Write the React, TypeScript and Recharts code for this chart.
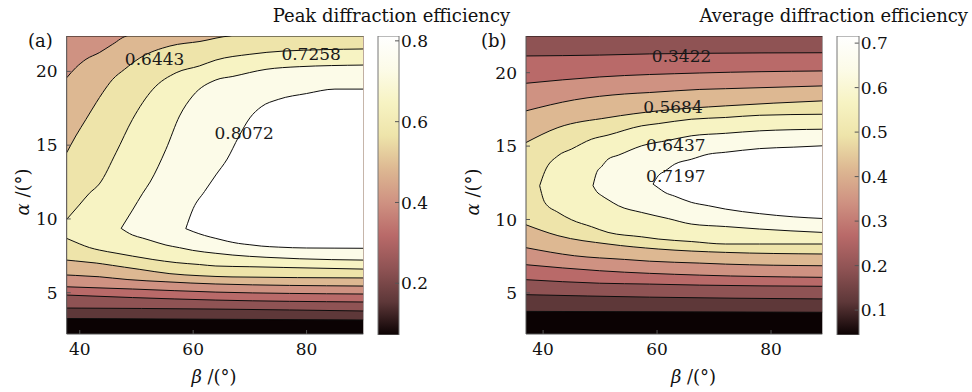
import { ComposedChart, Area, Bar, XAxis, YAxis, CartesianGrid, ReferenceDot } from 'recharts';

const SERIF = '"DejaVu Serif", "Liberation Serif", serif';

// filled-contour colours, lowest band first (pink-like colormap)
const BAND_COLORS = [
  '#0b0203',
  '#5e3839',
  '#8f5354',
  '#b96a69',
  '#cf9282',
  '#ddb892',
  '#eee4aa',
  '#f7f3c3',
  '#fcfbe8',
  '#ffffff'
];

const BETA_TICKS = [40, 60, 80];
const ALPHA_TICKS = [5, 10, 15, 20];

type Row = [number, number, number]; // [beta, alpha low, alpha high] of the region above a level

// (a) peak diffraction efficiency
const peakBeta: [number, number] = [37.7, 90];
const peakAlpha: [number, number] = [2.2, 22.4];
const peakL1: Row[] = [[37.7, 3.25, 22.4], [90, 3.15, 22.4]];
const peakL2: Row[] = [[37.7, 3.96, 22.4], [64, 3.89, 22.4], [90, 3.76, 22.4]];
const peakL3: Row[] = [[37.7, 4.84, 22.4], [49.3, 4.67, 22.4], [64, 4.5, 22.4], [90, 4.37, 22.4]];
const peakL4: Row[] = [[37.7, 5.4, 22.4], [49.3, 5.25, 22.4], [64, 5.04, 22.4], [90, 4.91, 22.4]];
const peakL5: Row[] = [
  [37.7, 6.2, 19.57], [39.3, 6.17, 20.25], [41.1, 6.13, 20.82], [43.45, 6.08, 21.27],
  [45.8, 5.99, 21.84], [48.5, 5.89, 22.4], [55.2, 5.74, 22.4], [64, 5.59, 22.4], [90, 5.45, 22.4]
];
const peakL6: Row[] = [
  [37.7, 7.21, 14.49], [39.3, 7.15, 15.62], [41.1, 7.08, 16.75], [42.9, 7.01, 17.88],
  [44.05, 6.95, 18.56], [45.8, 6.85, 19.46], [47.9, 6.73, 20.14], [50.6, 6.58, 20.91],
  [55.9, 6.29, 21.72], [61.2, 6.15, 22.03], [66.85, 6.07, 22.4], [90, 6.0, 22.4]
];
const peakL7: Row[] = [
  [37.7, 8.68, 9.97], [39.9, 8.32, 10.94], [41.7, 8.06, 11.74], [43.45, 7.89, 12.37],
  [46.4, 7.68, 14.49], [49.3, 7.48, 16.75], [52.9, 7.25, 18.79], [57, 7.04, 19.91],
  [61.1, 6.91, 20.37], [64, 6.81, 20.77], [70, 6.76, 21.16], [76, 6.71, 21.38], [90, 6.6, 21.52]
];
const peakL8: Row[] = [
  [47.3, 9.36, 9.36], [49.3, 8.91, 10.6], [51.1, 8.7, 11.74], [52.4, 8.55, 12.5],
  [55.2, 8.23, 14.72], [57.6, 8.05, 16.98], [59.9, 7.87, 18.33], [64, 7.67, 19.42],
  [67, 7.55, 19.66], [72.85, 7.4, 20.14], [78.7, 7.3, 20.32], [90, 7.21, 20.43]
];
const peakL9: Row[] = [
  [58.7, 9.34, 9.34], [60, 9.14, 10.7], [62, 8.88, 11.86], [64, 8.68, 12.98],
  [66, 8.49, 14.06], [68, 8.34, 15.55], [70, 8.25, 16.85], [72, 8.16, 17.6],
  [75, 8.09, 18.1], [80, 8.03, 18.5], [85, 8.02, 18.8], [90, 8.01, 18.8]
];
const peakLabels = [
  { text: '0.6443', beta: 53.2, alpha: 20.84 },
  { text: '0.7258', beta: 80.8, alpha: 21.18 },
  { text: '0.8072', beta: 69.0, alpha: 15.8 }
];
const peakColorbar: [number, number] = [0.072, 0.812];
const peakColorTicks = [0.2, 0.4, 0.6, 0.8];

// (b) average diffraction efficiency
const avgBeta: [number, number] = [37, 89];
const avgAlpha: [number, number] = [2.2, 22.5];
const avgL1: Row[] = [[37, 3.74, 22.5], [89, 3.68, 22.5]];
const avgL2: Row[] = [[37, 4.88, 22.5], [58.7, 4.71, 22.5], [89, 4.59, 22.5]];
const avgL3: Row[] = [[37, 5.9, 21.14], [49.9, 5.66, 21.2], [58.7, 5.6, 21.28], [67.5, 5.53, 21.32], [89, 5.45, 21.36]];
const avgL4: Row[] = [[37, 6.92, 19.28], [49.9, 6.51, 19.71], [67.5, 6.21, 19.98], [89, 6.06, 20.12]];
const avgL5: Row[] = [
  [37, 8.08, 17.4], [45.5, 7.53, 18.15], [54.3, 7.28, 18.55], [58.7, 7.16, 18.65],
  [67.5, 7.03, 18.86], [72, 6.96, 18.91], [89, 6.85, 19.1]
];
const avgL6: Row[] = [
  [37, 9.64, 15.24], [42.6, 8.9, 16.26], [51.4, 8.33, 16.94], [60.2, 7.99, 17.4], [72, 7.76, 17.74], [89, 7.65, 18.08]
];
const avgL7: Row[] = [
  [39.4, 12.3, 12.3], [40.3, 11.16, 13.27], [42.6, 10.49, 14.34], [45, 9.98, 14.8],
  [48.5, 9.51, 15.47], [51.4, 9.12, 15.75], [57.3, 8.82, 16.38], [60.2, 8.67, 16.53],
  [66, 8.5, 16.83], [72, 8.33, 16.95], [78, 8.33, 17.1], [89, 8.33, 17.17]
];
const avgL8: Row[] = [
  [48.76, 12.3, 12.3], [49.4, 11.9, 13.2], [50.3, 11.62, 13.62], [51.4, 11.35, 14.11],
  [53.2, 10.94, 14.38], [57.3, 10.48, 15.02], [62, 10.06, 15.39], [66, 9.69, 15.7],
  [72, 9.52, 15.87], [78, 9.35, 16.04], [89, 9.12, 16.15]
];
const avgL9: Row[] = [
  [59.3, 12.41, 12.41], [60.2, 12.16, 12.98], [61.4, 11.84, 13.3], [63.1, 11.59, 13.77],
  [66, 11.17, 14.1], [69, 10.94, 14.45], [72, 10.71, 14.58], [78, 10.4, 14.83],
  [84, 10.18, 14.93], [89, 10.07, 15.02]
];
const avgLabels = [
  { text: '0.3422', beta: 64.3, alpha: 21.14 },
  { text: '0.5684', beta: 62.8, alpha: 17.64 },
  { text: '0.6437', beta: 63.3, alpha: 15.08 },
  { text: '0.7197', beta: 63.3, alpha: 12.98 }
];
const avgColorbar: [number, number] = [0.044, 0.716];
const avgColorTicks = [0.1, 0.2, 0.3, 0.4, 0.5, 0.6, 0.7];

const toRows = (pts: Row[]) => pts.map(([beta, lo, hi]) => ({ beta, band: [lo, hi] }));

const tickStyle = { fill: '#111', fontSize: 17, fontFamily: SERIF };

interface PanelProps {
  width: number;
  margin: { top: number; right: number; bottom: number; left: number };
  yAxisWidth: number;
  betaDomain: [number, number];
  alphaDomain: [number, number];
  levels: Row[][];
  labels: { text: string; beta: number; alpha: number }[];
}

function ContourPanel({ width, margin, yAxisWidth, betaDomain, alphaDomain, levels, labels }: PanelProps) {
  return (
    <ComposedChart width={width} height={392} margin={margin}>
      <CartesianGrid fill={BAND_COLORS[0]} fillOpacity={1} stroke="none" horizontal={false} vertical={false} />
      {levels.map((pts, i) => (
        <Area
          key={`lvl-${i}`}
          data={toRows(pts)}
          dataKey="band"
          type="monotone"
          fill={BAND_COLORS[i + 1]}
          fillOpacity={1}
          stroke="#0d0d0d"
          strokeWidth={1}
          dot={false}
          activeDot={false}
          isAnimationActive={false}
        />
      ))}
      <XAxis
        dataKey="beta"
        type="number"
        domain={betaDomain}
        ticks={BETA_TICKS}
        allowDataOverflow
        height={40}
        tickSize={-4}
        tickMargin={13}
        stroke="#555"
        tick={tickStyle}
      />
      <XAxis
        xAxisId="top"
        orientation="top"
        type="number"
        domain={betaDomain}
        ticks={BETA_TICKS}
        allowDataOverflow
        height={0}
        tickSize={-4}
        tick={false}
        stroke="#555"
      />
      <YAxis
        type="number"
        domain={alphaDomain}
        ticks={ALPHA_TICKS}
        allowDataOverflow
        width={yAxisWidth}
        tickSize={-4}
        tickMargin={13}
        stroke="#555"
        tick={tickStyle}
      />
      <YAxis
        yAxisId="right"
        orientation="right"
        type="number"
        domain={alphaDomain}
        ticks={ALPHA_TICKS}
        allowDataOverflow
        width={0}
        tickSize={-4}
        tick={false}
        stroke="#555"
      />
      {labels.map((l) => (
        <ReferenceDot
          key={l.text}
          x={l.beta}
          y={l.alpha}
          r={0}
          fill="none"
          stroke="none"
          label={{ value: l.text, position: 'center', fill: '#1a1a1a', fontSize: 17, fontFamily: SERIF }}
        />
      ))}
    </ComposedChart>
  );
}

function Colorbar({ id, domain, ticks, marginLeft, marginRight }: {
  id: string;
  domain: [number, number];
  ticks: number[];
  marginLeft: number;
  marginRight: number;
}) {
  return (
    <ComposedChart
      width={70}
      height={392}
      data={[{ name: 'cb', span: domain }]}
      margin={{ top: 36, right: marginRight, bottom: 57, left: marginLeft }}
      barCategoryGap={0}
    >
      <defs>
        <linearGradient id={id} x1="0" y1="1" x2="0" y2="0">
          {BAND_COLORS.map((c, i) => (
            <stop key={c} offset={i / (BAND_COLORS.length - 1)} stopColor={c} />
          ))}
        </linearGradient>
      </defs>
      <XAxis dataKey="name" hide height={0} />
      <YAxis
        orientation="right"
        type="number"
        domain={domain}
        ticks={ticks}
        allowDataOverflow
        width={40}
        tickSize={-4}
        tickMargin={6}
        axisLine={false}
        stroke="#555"
        tick={tickStyle}
      />
      <Bar dataKey="span" fill={`url(#${id})`} stroke="#777" strokeWidth={1} isAnimationActive={false} />
    </ComposedChart>
  );
}

export default function App() {
  return (
    <div style={{ position: 'absolute', left: 0, top: 0, width: 972, height: 392, background: '#fff' }}>
      <div style={{ position: 'absolute', left: 0, top: 0 }}>
        <ContourPanel
          width={380}
          margin={{ top: 36, right: 16.7, bottom: 18, left: 16.7 }}
          yAxisWidth={50}
          betaDomain={peakBeta}
          alphaDomain={peakAlpha}
          levels={[peakL1, peakL2, peakL3, peakL4, peakL5, peakL6, peakL7, peakL8, peakL9]}
          labels={peakLabels}
        />
      </div>
      <div style={{ position: 'absolute', left: 370, top: 0 }}>
        <Colorbar id="cbPeak" domain={peakColorbar} ticks={peakColorTicks} marginLeft={8} marginRight={1} />
      </div>
      <div style={{ position: 'absolute', left: 480, top: 0 }}>
        <ContourPanel
          width={360}
          margin={{ top: 36, right: 17.7, bottom: 18, left: 6 }}
          yAxisWidth={40}
          betaDomain={avgBeta}
          alphaDomain={avgAlpha}
          levels={[avgL1, avgL2, avgL3, avgL4, avgL5, avgL6, avgL7, avgL8, avgL9]}
          labels={avgLabels}
        />
      </div>
      <div style={{ position: 'absolute', left: 830, top: 0 }}>
        <Colorbar id="cbAvg" domain={avgColorbar} ticks={avgColorTicks} marginLeft={7} marginRight={1.3} />
      </div>
      <svg
        width={972}
        height={392}
        style={{ position: 'absolute', left: 0, top: 0, pointerEvents: 'none' }}
        fontFamily={SERIF}
        fill="#111"
      >
        <text x={272.7} y={21.7} fontSize={18}>Peak diffraction efficiency</text>
        <text x={968} y={21.7} fontSize={18} textAnchor="end">Average diffraction efficiency</text>
        <text x={28} y={46.5} fontSize={18}>(a)</text>
        <text x={481} y={46.5} fontSize={18}>(b)</text>
        <text transform="translate(29,192) rotate(-90)" textAnchor="middle" fontSize={18}>
          <tspan fontStyle="italic">α</tspan> /(°)
        </text>
        <text transform="translate(479,192) rotate(-90)" textAnchor="middle" fontSize={18}>
          <tspan fontStyle="italic">α</tspan> /(°)
        </text>
        <text x={214} y={383} textAnchor="middle" fontSize={18}>
          <tspan fontStyle="italic">β</tspan> /(°)
        </text>
        <text x={693.5} y={383} textAnchor="middle" fontSize={18}>
          <tspan fontStyle="italic">β</tspan> /(°)
        </text>
      </svg>
    </div>
  );
}
